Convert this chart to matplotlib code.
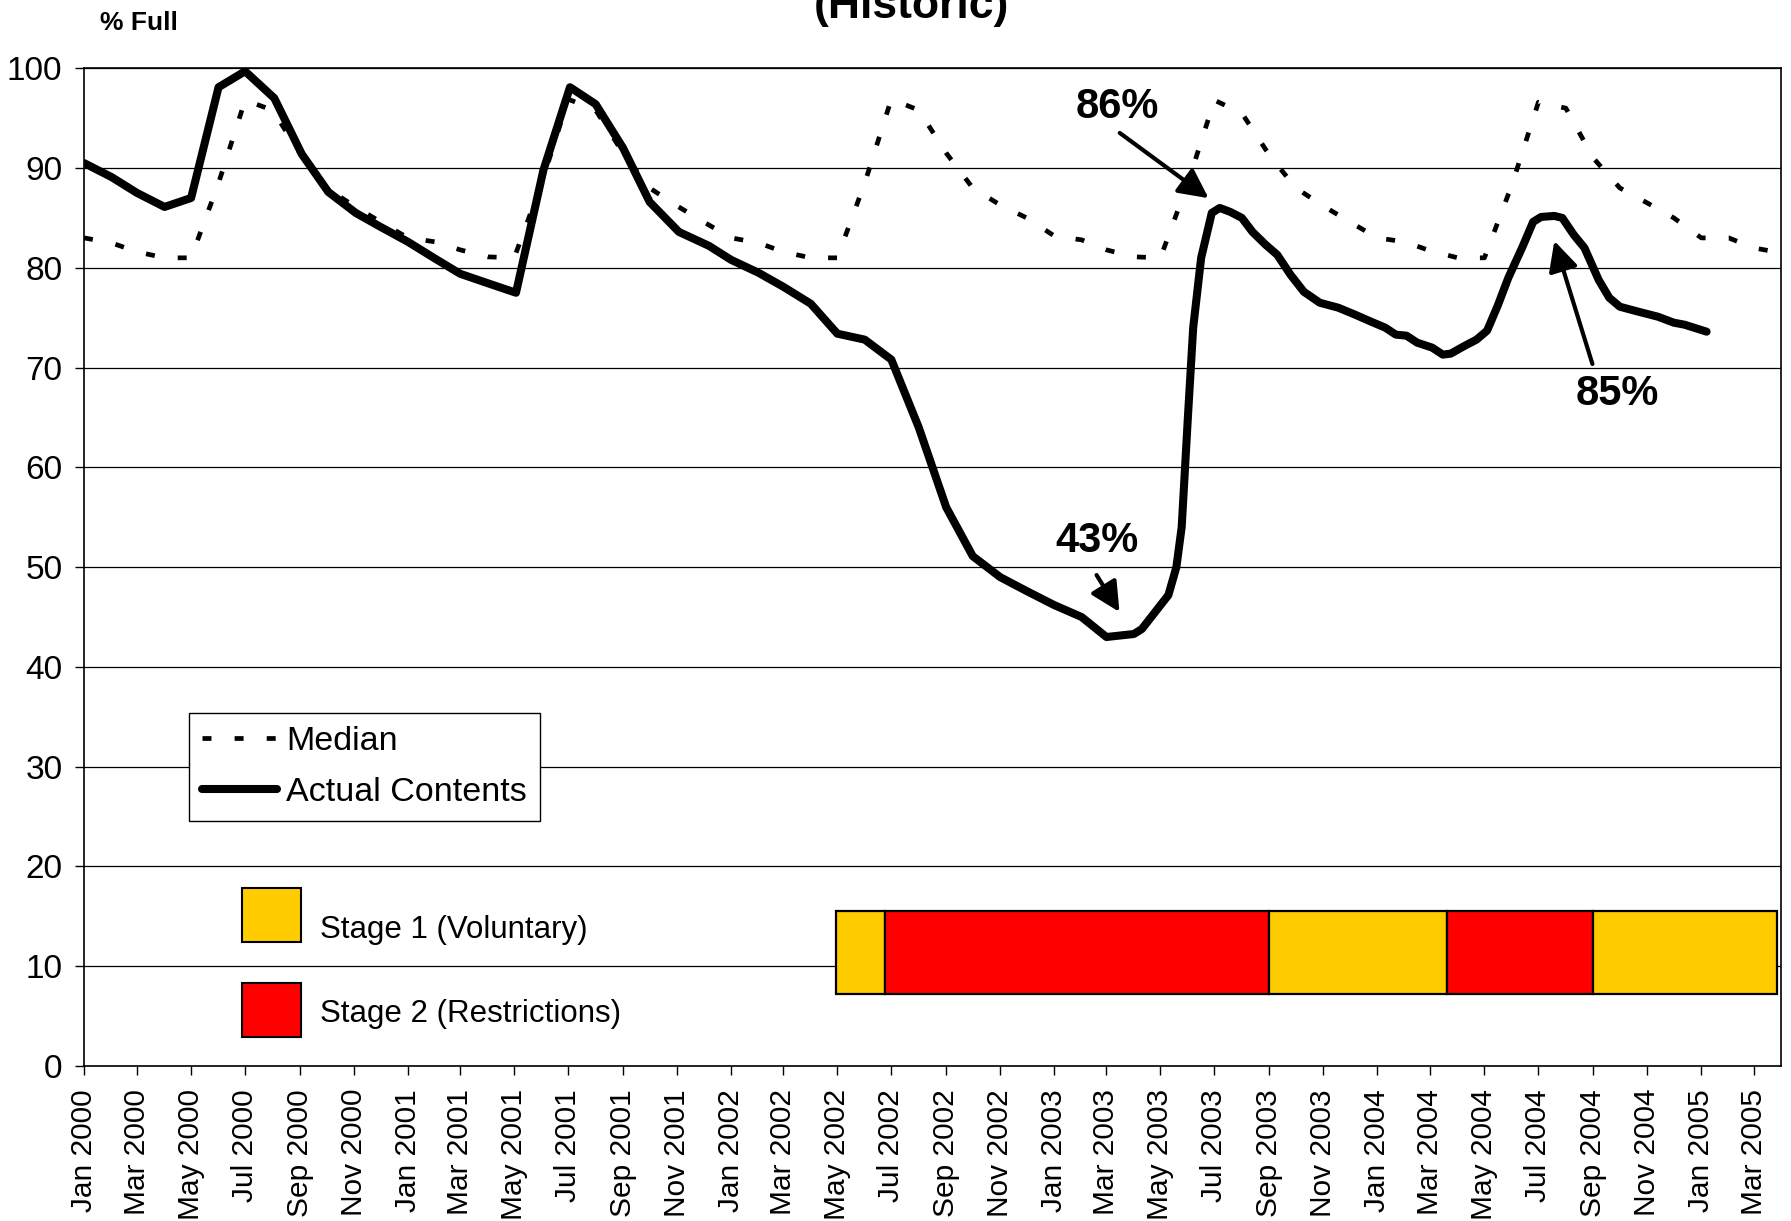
import matplotlib
matplotlib.use("Agg")
import matplotlib.pyplot as plt
import matplotlib.dates as mdates
import matplotlib.transforms as mtransforms
from matplotlib.patches import Rectangle
import numpy as np
import pandas as pd

plt.rcParams["font.family"] = ["Liberation Sans", "DejaVu Sans"]

# --- data -------------------------------------------------------------------
# long-term monthly median storage, Jan 2000 .. Apr 2005
median_months = pd.date_range("2000-01-01", "2005-04-01", freq="MS")
median_pct = [
    83.0, 82.5, 81.6, 81.0, 81.0, 88.5, 96.8, 95.8, 91.5, 88.0, 86.2, 84.6,
    83.0, 82.6, 81.8, 81.1, 81.0, 88.5, 96.9, 95.8, 91.5, 88.0, 86.2, 84.6,
    83.0, 82.5, 81.6, 81.0, 81.0, 88.5, 96.9, 95.8, 91.5, 88.0, 86.3, 85.0,
    83.2, 82.8, 81.8, 81.1, 81.0, 88.5, 96.8, 95.5, 91.3, 88.0, 86.2, 84.6,
    83.0, 82.6, 81.7, 81.0, 81.0, 88.3, 96.6, 96.0, 91.0, 88.0, 86.5, 85.0,
    83.0, 83.0, 82.0, 81.5,
]

# actual reservoir contents
actual_dates = [
    "2000-01-01", "2000-02-01", "2000-03-01", "2000-04-01", "2000-05-01", "2000-06-01",
    "2000-07-01", "2000-08-03", "2000-09-03", "2000-10-03", "2000-11-03", "2000-12-01",
    "2001-01-01", "2001-02-01", "2001-03-01", "2001-04-03", "2001-05-03", "2001-06-03",
    "2001-07-03", "2001-08-01", "2001-09-01", "2001-10-01", "2001-11-03", "2001-12-07",
    "2002-01-01", "2002-02-01", "2002-03-01", "2002-04-01", "2002-05-01", "2002-06-01",
    "2002-07-01", "2002-08-01", "2002-09-01", "2002-10-01", "2002-11-01", "2002-12-01",
    "2003-01-01", "2003-02-01", "2003-03-01", "2003-04-01", "2003-04-10", "2003-04-25",
    "2003-05-10", "2003-05-19", "2003-05-25", "2003-06-01", "2003-06-07", "2003-06-16",
    "2003-06-28", "2003-07-07", "2003-07-19", "2003-08-01", "2003-08-13", "2003-08-28",
    "2003-09-10", "2003-09-25", "2003-10-10", "2003-10-28", "2003-11-18", "2003-12-07",
    "2003-12-25", "2004-01-10", "2004-01-22", "2004-02-03", "2004-02-15", "2004-03-03",
    "2004-03-15", "2004-03-24", "2004-04-07", "2004-04-22", "2004-05-04", "2004-05-16",
    "2004-05-28", "2004-06-13", "2004-06-25", "2004-07-04", "2004-07-19", "2004-07-28",
    "2004-08-10", "2004-08-22", "2004-09-07", "2004-09-19", "2004-10-01", "2004-10-22",
    "2004-11-13", "2004-12-01", "2004-12-13", "2005-01-07",
]
actual_pct = [
    90.5, 89.1, 87.5, 86.1, 87.0, 98.1,
    99.7, 97.0, 91.4, 87.6, 85.5, 84.1,
    82.6, 80.9, 79.4, 78.4, 77.5, 89.8,
    98.1, 96.4, 92.0, 86.6, 83.6, 82.2,
    80.8, 79.5, 78.1, 76.4, 73.4, 72.8,
    70.8, 64.0, 56.0, 51.1, 49.0, 47.6,
    46.2, 45.0, 43.0, 43.3, 43.8, 45.5,
    47.2, 50.0, 54.0, 65.0, 74.0, 81.0,
    85.5, 86.0, 85.6, 85.0, 83.6, 82.3,
    81.3, 79.3, 77.6, 76.5, 76.0, 75.3,
    74.6, 74.0, 73.3, 73.2, 72.5, 72.0,
    71.3, 71.4, 72.1, 72.8, 73.7, 76.2,
    79.0, 82.1, 84.6, 85.1, 85.2, 85.0,
    83.3, 82.0, 78.8, 77.0, 76.1, 75.6,
    75.1, 74.5, 74.3, 73.6,
]

# water restriction periods
stage_start = ["2002-04-29", "2002-06-24", "2003-09-01", "2004-03-20", "2004-09-01"]
stage_end = ["2002-06-24", "2003-09-01", "2004-03-20", "2004-09-01", "2005-03-28"]
stage_level = [1, 2, 1, 2, 1]
stage_colors = {1: "#FFCC00", 2: "#FF0000"}
stage_names = {1: "Stage 1 (Voluntary)", 2: "Stage 2 (Restrictions)"}

actual = pd.Series(actual_pct, index=pd.to_datetime(actual_dates))

# --- figure -------------------------------------------------------------------
fig = plt.figure(figsize=(17.91, 12.21), dpi=100)
ax = fig.add_axes([0.0469, 0.1269, 0.9475, 0.8172])

ax.plot(median_months, median_pct, color="black", lw=3.4, dashes=(1.9, 4.9),
        dash_capstyle="butt", label="Median", zorder=3)
ax.plot(actual.index, actual.values, color="black", lw=5.8,
        solid_joinstyle="round", solid_capstyle="round",
        label="Actual Contents", zorder=4)

# restriction bar along the bottom
left = mdates.date2num(pd.to_datetime(stage_start))
right = mdates.date2num(pd.to_datetime(stage_end))
ax.barh(11.35, right - left, left=left, height=8.3,
        color=[stage_colors[s] for s in stage_level],
        edgecolor="black", linewidth=1.6, zorder=2)

ax.set_xlim(mdates.date2num(pd.Timestamp("2000-01-01")),
            mdates.date2num(pd.Timestamp("2005-04-01")))
ax.set_ylim(0, 100)
ax.set_yticks(range(0, 101, 10))
ax.xaxis.set_major_locator(mdates.MonthLocator(bymonth=[1, 3, 5, 7, 9, 11]))
ax.xaxis.set_major_formatter(mdates.DateFormatter("%b %Y"))
ax.tick_params(axis="x", labelsize=21.5, rotation=90, length=6.5, width=1, pad=10)
ax.tick_params(axis="y", labelsize=24, length=6.5, width=1, pad=9)
for lab in ax.get_xticklabels():
    lab.set_va("top")

ax.yaxis.grid(True, color="black", lw=0.9)
ax.set_axisbelow(True)
for sp in ax.spines.values():
    sp.set_color("black")
    sp.set_linewidth(1.2)

# line legend
leg = ax.legend(loc="upper left", bbox_to_anchor=(0.0619, 0.3538), fontsize=24.5,
                frameon=True, fancybox=False, edgecolor="black", framealpha=1,
                borderaxespad=0, borderpad=0.38, handlelength=2.2,
                handletextpad=0.28, labelspacing=0.6)
leg.get_frame().set_linewidth(1.0)

# stage key
for lvl, y0, ty in [(1, 0.1243, 0.1366), (2, 0.0291, 0.0526)]:
    ax.add_patch(Rectangle((0.0931, y0), 0.0348, 0.0541, transform=ax.transAxes,
                           facecolor=stage_colors[lvl], edgecolor="black",
                           linewidth=1.5, zorder=5))
    ax.text(0.139, ty, stage_names[lvl], transform=ax.transAxes,
            fontsize=22.5, va="center", ha="left", zorder=5)

# call-outs on the actual curve: arrow tip offset from the point, tail offset
# from the tip, label offset from the point (all in points)
arrow = dict(arrowstyle="-|>,head_length=0.9,head_width=0.45", mutation_scale=20,
             lw=3, color="black", shrinkA=0, shrinkB=0)

low_date = actual.idxmin()
peak03 = actual["2003"].idxmax()
peak04 = actual["2004"].idxmax()
callouts = [
    (peak03, (-8, 7), (-64, 47), (-74, 73)),
    (low_date, (9.4, 18), (-16.5, 26.6), (-7, 69)),
    (peak04, (0, -18), (27.4, -88.6), (45, -128)),
]
for d, tip, tail, txt in callouts:
    v = actual[d]
    tip_tr = ax.transData + mtransforms.ScaledTranslation(
        tip[0] / 72, tip[1] / 72, fig.dpi_scale_trans)
    ax.annotate("", xy=(mdates.date2num(d), v), xycoords=tip_tr,
                xytext=tail, textcoords="offset points",
                arrowprops=arrow, zorder=6)
    ax.annotate(f"{v:.0f}%", xy=(d, v), xytext=txt, textcoords="offset points",
                ha="center", va="center", fontsize=30, fontweight="bold", zorder=6)

fig.text(0.509, 1 - 18 / 1221, "(Historic)", ha="center", va="baseline",
         fontsize=32, fontweight="bold")
fig.text(100 / 1791, 1 - 30 / 1221, "% Full", ha="left", va="baseline",
         fontsize=19, fontweight="bold")

fig.savefig("out.png", dpi=100)
